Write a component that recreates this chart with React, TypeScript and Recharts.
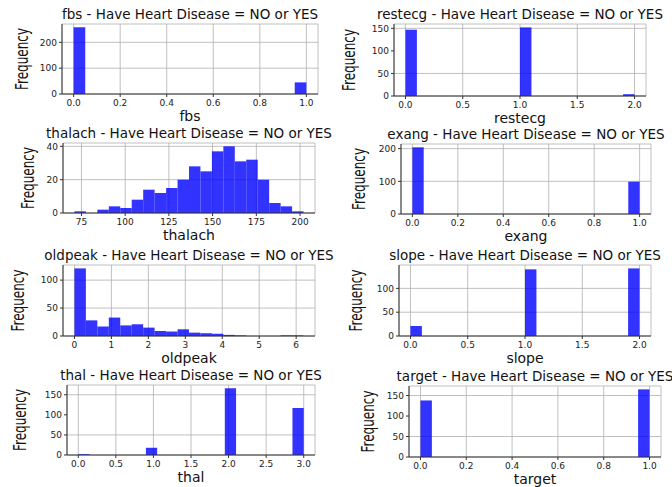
import React from "react"
import { BarChart, Bar, XAxis, YAxis, CartesianGrid } from "recharts"

const BIN_COUNT = 20

// histogram counts, 20 equal bins between the column's min and max
const fbsCounts = [258, 0, 0, 0, 0, 0, 0, 0, 0, 0, 0, 0, 0, 0, 0, 0, 0, 0, 0, 45]
const restecgCounts = [147, 0, 0, 0, 0, 0, 0, 0, 0, 0, 152, 0, 0, 0, 0, 0, 0, 0, 0, 4]
const thalachCounts = [1, 0, 2, 4, 3, 8, 14, 12, 15, 20, 28, 25, 37, 40, 31, 32, 20, 6, 4, 1]
const exangCounts = [204, 0, 0, 0, 0, 0, 0, 0, 0, 0, 0, 0, 0, 0, 0, 0, 0, 0, 0, 99]
const oldpeakCounts = [121, 28, 17, 33, 19, 21, 15, 9, 8, 12, 6, 5, 4, 2, 1, 0, 0, 0, 1, 1]
const slopeCounts = [21, 0, 0, 0, 0, 0, 0, 0, 0, 0, 140, 0, 0, 0, 0, 0, 0, 0, 0, 142]
const thalCounts = [2, 0, 0, 0, 0, 0, 18, 0, 0, 0, 0, 0, 0, 166, 0, 0, 0, 0, 0, 117]
const targetCounts = [138, 0, 0, 0, 0, 0, 0, 0, 0, 0, 0, 0, 0, 0, 0, 0, 0, 0, 0, 165]

const ticks01 = [0, 0.2, 0.4, 0.6, 0.8, 1.0]
const ticks02 = [0, 0.5, 1.0, 1.5, 2.0]
const ticks03 = [0, 0.5, 1.0, 1.5, 2.0, 2.5, 3.0]
const thalachTicks = [75, 100, 125, 150, 175, 200]
const oldpeakTicks = [0, 1, 2, 3, 4, 5, 6]

const BLUE = "#0000ff"
const FONT = "'DejaVu Sans', sans-serif"

type Box = { l: number; t: number; r: number; b: number }

type HistProps = {
  name: string
  counts: number[]
  min: number
  max: number
  xTicks: number[]
  decimals: number
  yTicks: number[]
  box: Box
  yLabelGap: number
}

function Hist({ name, counts, min, max, xTicks, decimals, yTicks, box, yLabelGap }: HistProps) {
  const w = (max - min) / BIN_COUNT
  const data = counts.map((c, i) => ({ x: min + w * (i + 0.5), count: c }))
  const pad = (max - min) * 0.05
  const xDomain = [min - pad, max + pad]
  const yMax = Math.max(...counts) * 1.05
  // bin width in px (a hair under the band so recharts doesn't shrink it to 90%)
  const barPx = ((box.r - box.l) * w) / (xDomain[1] - xDomain[0]) - 0.02

  const marginTop = 30
  const marginLeft = 10
  const yAxisW = 50
  const xAxisH = 34
  const chartW = box.r - box.l + marginLeft + yAxisW + 12
  const chartH = box.b - box.t + marginTop + xAxisH

  return (
    <>
      <div
        style={{
          position: "absolute",
          left: (box.l + box.r) / 2 - 200,
          width: 400,
          top: box.t - 17,
          textAlign: "center",
          fontFamily: FONT,
          fontSize: 13.5,
          lineHeight: "15px",
          color: "#111",
          whiteSpace: "nowrap",
        }}
      >
        {name} - Have Heart Disease = NO or YES
      </div>
      <div style={{ position: "absolute", left: box.l - marginLeft - yAxisW, top: box.t - marginTop }}>
        <BarChart
          width={chartW}
          height={chartH}
          data={data}
          barCategoryGap={0}
          barGap={0}
          margin={{ top: marginTop, right: 12, bottom: 0, left: marginLeft }}
        >
          <CartesianGrid stroke="#b0b0b0" strokeWidth={0.8} />
          <XAxis
            type="number"
            dataKey="x"
            domain={xDomain}
            ticks={xTicks}
            allowDataOverflow
            tickFormatter={(v: number) => v.toFixed(decimals)}
            tick={{ fontSize: 9, fill: "#222", fontFamily: FONT }}
            tickSize={3}
            tickMargin={3}
            tickLine={{ stroke: "#333" }}
            axisLine={{ stroke: "#333" }}
            height={xAxisH}
            label={{ value: name, position: "insideBottom", offset: 7, fontSize: 14, fill: "#111", fontFamily: FONT }}
          />
          <XAxis xAxisId="top" orientation="top" type="number" domain={xDomain} height={0} tick={false} tickLine={false} axisLine={{ stroke: "#333" }} />
          <YAxis
            type="number"
            domain={[0, yMax]}
            ticks={yTicks}
            allowDataOverflow
            tick={{ fontSize: 9, fill: "#222", fontFamily: FONT }}
            tickSize={3}
            tickLine={{ stroke: "#333" }}
            axisLine={{ stroke: "#333" }}
            width={yAxisW}
            label={{
              value: "Frequency",
              angle: -90,
              position: "insideLeft",
              offset: yAxisW - yLabelGap,
              fontSize: 17,
              fill: "#111",
              fontFamily: FONT,
              style: { textAnchor: "middle" },
              textLength: 62,
              lengthAdjust: "spacingAndGlyphs",
            }}
          />
          <YAxis yAxisId="right" orientation="right" domain={[0, yMax]} width={0} tick={false} tickLine={false} axisLine={{ stroke: "#333" }} />
          <Bar dataKey="count" fill={BLUE} fillOpacity={0.8} barSize={barPx} isAnimationActive={false} />
        </BarChart>
      </div>
    </>
  )
}

export default function App() {
  return (
    <div style={{ position: "absolute", left: 0, top: 0, width: 672, height: 487, overflow: "hidden", background: "#fff" }}>
      <Hist name="fbs" counts={fbsCounts} min={0} max={1} xTicks={ticks01} decimals={1} yTicks={[0, 100, 200]} box={{ l: 62, t: 24, r: 318, b: 94 }} yLabelGap={40} />
      <Hist name="restecg" counts={restecgCounts} min={0} max={2} xTicks={ticks02} decimals={1} yTicks={[0, 50, 100, 150]} box={{ l: 394, t: 24, r: 646, b: 96 }} yLabelGap={45} />
      <Hist name="thalach" counts={thalachCounts} min={71} max={202} xTicks={thalachTicks} decimals={0} yTicks={[0, 20, 40]} box={{ l: 63, t: 143, r: 315, b: 213 }} yLabelGap={35} />
      <Hist name="exang" counts={exangCounts} min={0} max={1} xTicks={ticks01} decimals={1} yTicks={[0, 100, 200]} box={{ l: 401, t: 144, r: 651, b: 214 }} yLabelGap={42} />
      <Hist name="oldpeak" counts={oldpeakCounts} min={0} max={6.2} xTicks={oldpeakTicks} decimals={0} yTicks={[0, 50, 100]} box={{ l: 63, t: 265, r: 315, b: 336 }} yLabelGap={45} />
      <Hist name="slope" counts={slopeCounts} min={0} max={2} xTicks={ticks02} decimals={1} yTicks={[0, 50, 100]} box={{ l: 399, t: 265, r: 651, b: 336 }} yLabelGap={43} />
      <Hist name="thal" counts={thalCounts} min={0} max={3} xTicks={ticks03} decimals={1} yTicks={[0, 50, 100, 150]} box={{ l: 67, t: 385, r: 315, b: 455 }} yLabelGap={47} />
      <Hist name="target" counts={targetCounts} min={0} max={1} xTicks={ticks01} decimals={1} yTicks={[0, 50, 100, 150]} box={{ l: 409, t: 386, r: 661, b: 457 }} yLabelGap={41} />
    </div>
  )
}
